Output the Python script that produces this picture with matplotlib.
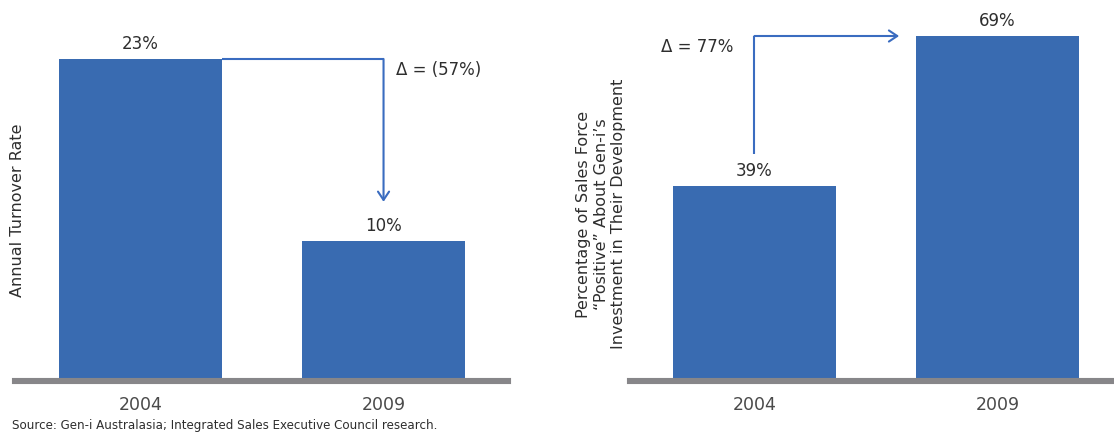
import matplotlib
matplotlib.use("Agg")
import matplotlib.pyplot as plt

# ==========================================
# DATA
# ==========================================
years = ["2004", "2009"]
turnover = [23, 10]          # annual turnover rate (%)
positive = [39, 69]          # % of sales force "positive" about investment
turnover_delta = "Δ = (57%)"
positive_delta = "Δ = 77%"
source = "Source: Gen-i Australasia; Integrated Sales Executive Council research."

# ==========================================
# STYLE
# ==========================================
BLUE = "#396bb1"
ARROW = "#3a6cc0"
GRAY = "#878689"
TEXT = "#2e2e2e"
plt.rcParams["font.family"] = ["DejaVu Sans"]

W, H = 1114, 434
fig = plt.figure(figsize=(W / 100, H / 100), dpi=100)

def px_axes(x0, x1, ybase):
    # axes placed in pixel terms, origin at top-left of the picture
    return fig.add_axes([x0 / W, (H - ybase) / H, (x1 - x0) / W, ybase / H])

bar_w = 0.67
xs = [0, 1]

def setup(ax, xlim, ylim):
    ax.set_xlim(*xlim)
    ax.set_ylim(*ylim)
    for s in ["top", "right", "left"]:
        ax.spines[s].set_visible(False)
    ax.spines["bottom"].set_color(GRAY)
    ax.spines["bottom"].set_linewidth(4.4)
    ax.spines["bottom"].set_zorder(5)
    ax.set_yticks([])
    ax.set_xticks(xs)
    ax.set_xticklabels(years)
    ax.tick_params(axis="x", length=0, pad=11, labelsize=12.5, labelcolor="#4a4a4a")
    ax.patch.set_alpha(0)

def value_labels(ax, vals):
    for x, v in zip(xs, vals):
        ax.annotate(f"{v}%", (x, v), xytext=(0, 11), textcoords="offset points",
                    ha="center", va="center", fontsize=12, color=TEXT)

# ---- left panel: turnover ----
ax1 = px_axes(15, 508, 381)
setup(ax1, (-0.516, 1.512), (0, 381 / 14))
ax1.bar(xs, turnover, width=bar_w, color=BLUE, zorder=2)
value_labels(ax1, turnover)

# elbow arrow: top of 2004 bar across, then down to 2009 bar
corner_x = xs[1]
ax1.plot([xs[0] + bar_w / 2, corner_x], [turnover[0], turnover[0]],
         color=ARROW, lw=1.5, solid_capstyle="butt", clip_on=False)
ax1.annotate("", xy=(corner_x, turnover[1] + 2.8), xytext=(corner_x, turnover[0]),
             arrowprops=dict(arrowstyle="->,head_length=0.6,head_width=0.4",
                             color=ARROW, lw=1.5, shrinkA=0, shrinkB=0))
ax1.annotate(turnover_delta, (corner_x, turnover[0]), xytext=(9, -8),
             textcoords="offset points", ha="left", va="center",
             fontsize=12, color=TEXT)

# ---- right panel: positive sentiment ----
ax2 = px_axes(630, 1114, 381)
setup(ax2, (-0.512, 1.479), (0, 381 / 5))
ax2.bar(xs, positive, width=bar_w, color=BLUE, zorder=2)
value_labels(ax2, positive)

ax2.plot([xs[0], xs[0]], [positive[0] + 6.5, positive[1]],
         color=ARROW, lw=1.5, solid_capstyle="butt", clip_on=False)
ax2.annotate("", xy=(xs[1] - bar_w / 2 - 0.07, positive[1]), xytext=(xs[0], positive[1]),
             arrowprops=dict(arrowstyle="->,head_length=0.6,head_width=0.4",
                             color=ARROW, lw=1.5, shrinkA=0, shrinkB=0))
ax2.annotate(positive_delta, (xs[0], positive[1]), xytext=(-15, -8),
             textcoords="offset points", ha="right", va="center",
             fontsize=12, color=TEXT)

# ---- axis titles & source ----
fig.text(18 / W, 1 - 210 / H, "Annual Turnover Rate", rotation=90,
         ha="center", va="center", fontsize=11.5, color=TEXT)
fig.text(601 / W, 1 - 214 / H,
         "Percentage of Sales Force\n\u201cPositive\u201d About Gen-i\u2019s\nInvestment in Their Development",
         rotation=90, ha="center", va="center", multialignment="center",
         fontsize=11.5, color=TEXT, linespacing=1.2)
fig.text(12 / W, 1 - 426 / H, source, ha="left", va="center", fontsize=8.6, color=TEXT)

fig.savefig("out.png", dpi=100)
